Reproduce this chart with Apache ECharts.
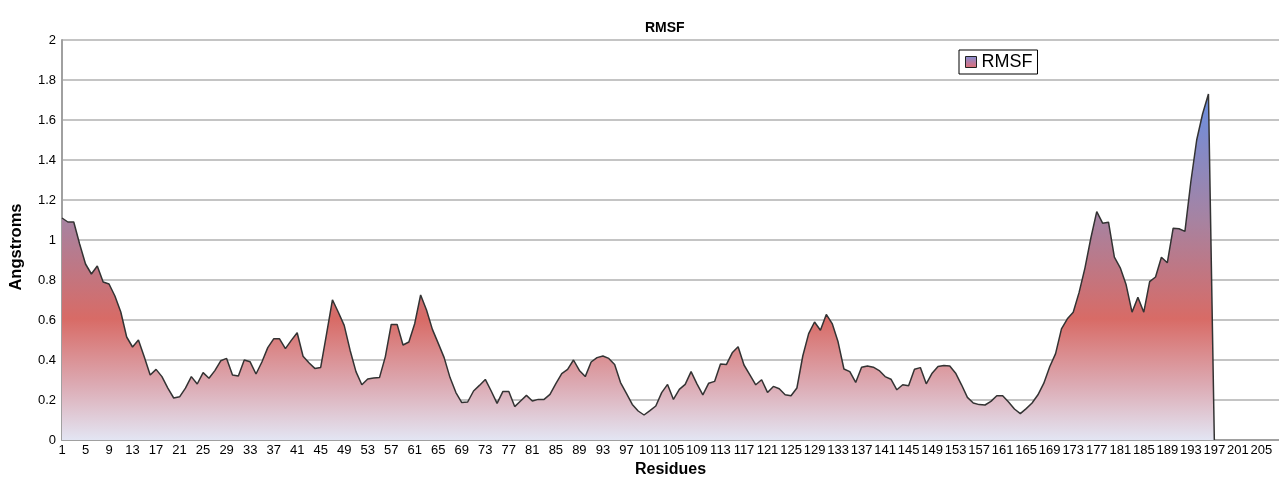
<!DOCTYPE html>
<html>
<head>
<meta charset="utf-8">
<title>RMSF</title>
<script src="https://cdn.jsdelivr.net/npm/echarts@6/dist/echarts.min.js"></script>
<style>
  html, body { margin: 0; padding: 0; background: #ffffff; }
  #chart { width: 1279px; height: 483px; }
</style>
</head>
<body>
<div id="chart"></div>
<script>
// Residue numbers along the x axis (1..208; the trajectory covers 1..197)
const residues = [];
for (let r = 1; r <= 208; r++) residues.push(String(r));

// Per-residue RMSF in Angstroms, residues 1..197
const rmsf = [
  1.11, 1.09, 1.09, 0.98, 0.88, 0.83, 0.87, 0.79, 0.78, 0.72,
  0.64, 0.515, 0.465, 0.50, 0.415, 0.325, 0.353, 0.317, 0.259, 0.21,
  0.216, 0.259, 0.317, 0.28, 0.337, 0.309, 0.347, 0.396, 0.408, 0.325,
  0.32, 0.40, 0.391, 0.33, 0.39, 0.462, 0.506, 0.506, 0.457, 0.498,
  0.536, 0.419, 0.386, 0.358, 0.363, 0.531, 0.701, 0.639, 0.573, 0.449,
  0.342, 0.276, 0.305, 0.31, 0.312, 0.417, 0.578, 0.578, 0.475, 0.49,
  0.583, 0.725, 0.65, 0.553, 0.483, 0.412, 0.312, 0.237, 0.187, 0.19,
  0.245, 0.273, 0.303, 0.245, 0.183, 0.243, 0.242, 0.167, 0.195, 0.223,
  0.195, 0.203, 0.203, 0.228, 0.282, 0.332, 0.353, 0.40, 0.348, 0.317,
  0.39, 0.412, 0.42, 0.408, 0.378, 0.287, 0.233, 0.178, 0.145, 0.125,
  0.147, 0.17, 0.237, 0.278, 0.203, 0.253, 0.278, 0.342, 0.281, 0.226,
  0.284, 0.293, 0.38, 0.377, 0.436, 0.466, 0.375, 0.326, 0.276, 0.301,
  0.238, 0.268, 0.256, 0.226, 0.221, 0.26, 0.42, 0.532, 0.59, 0.549,
  0.628, 0.582, 0.491, 0.355, 0.342, 0.288, 0.364, 0.37, 0.364, 0.347,
  0.317, 0.304, 0.251, 0.276, 0.271, 0.354, 0.362, 0.281, 0.334, 0.367,
  0.372, 0.37, 0.334, 0.276, 0.213, 0.185, 0.177, 0.175, 0.193, 0.221,
  0.221, 0.19, 0.155, 0.132, 0.157, 0.185, 0.226, 0.284, 0.366, 0.432,
  0.556, 0.606, 0.639, 0.738, 0.861, 1.01, 1.142, 1.084, 1.089, 0.914,
  0.861, 0.776, 0.639, 0.713, 0.639, 0.792, 0.815, 0.914, 0.886, 1.059,
  1.056, 1.043, 1.29, 1.50, 1.63, 1.73, 0
];

// Y axis ticks (Angstroms)
const yTicks = [0, 0.2, 0.4, 0.6, 0.8, 1, 1.2, 1.4, 1.6, 1.8, 2];

const seriesData = residues.map((_, i) => (i < rmsf.length ? rmsf[i] : null));

const fillGradient = new echarts.graphic.LinearGradient(0, 0, 0, 1, [
  { offset: 0.00, color: '#6a8fe2' },
  { offset: 0.36, color: '#a683a2' },
  { offset: 0.65, color: '#d86b66' },
  { offset: 0.84, color: '#dcaab3' },
  { offset: 1.00, color: '#e3e5f3' }
]);

const legendIcon = new echarts.graphic.LinearGradient(0, 0, 0, 1, [
  { offset: 0, color: '#7f8fd6' },
  { offset: 0.6, color: '#c0789a' },
  { offset: 1, color: '#e07070' }
]);

const chart = echarts.init(document.getElementById('chart'), null, { renderer: 'canvas' });

const font = 'Liberation Sans, Arial, sans-serif';

chart.setOption({
  animation: false,
  backgroundColor: '#ffffff',
  textStyle: { fontFamily: font },
  title: {
    text: 'RMSF',
    left: 640,
    top: 16,
    textStyle: { fontFamily: font, fontSize: 14, fontWeight: 'bold', color: '#000' }
  },
  legend: {
    left: 959,
    top: 50,
    orient: 'horizontal',
    borderColor: '#000',
    borderWidth: 1,
    padding: [3, 5, 3, 6],
    itemWidth: 11,
    itemHeight: 11,
    textStyle: { fontFamily: font, fontSize: 18, color: '#000' },
    data: [{
      name: 'RMSF',
      icon: 'rect',
      itemStyle: { color: legendIcon, borderColor: '#222', borderWidth: 1 }
    }]
  },
  grid: {
    left: 61,
    top: 40,
    width: 1221,
    bottom: 39,
    containLabel: false
  },
  xAxis: {
    type: 'category',
    data: residues,
    boundaryGap: false,
    name: 'Residues',
    nameLocation: 'middle',
    nameGap: 22,
    nameTextStyle: { fontFamily: font, fontSize: 16, fontWeight: 'bold', color: '#000' },
    axisLine: { lineStyle: { color: '#a0a0a0', width: 2 } },
    axisTick: { show: false },
    axisLabel: {
      interval: 3,
      margin: 4,
      fontFamily: font,
      fontSize: 13,
      color: '#000'
    },
    splitLine: { show: false }
  },
  yAxis: {
    type: 'value',
    min: yTicks[0],
    max: yTicks[yTicks.length - 1],
    interval: 0.2,
    name: 'Angstroms',
    nameLocation: 'middle',
    nameGap: 37,
    nameRotate: 90,
    nameTextStyle: {
      fontFamily: font, fontSize: 16.5, fontWeight: 'bold', color: '#000',
      padding: [0, 14, 0, 0]
    },
    axisLine: { show: true, lineStyle: { color: '#a0a0a0', width: 2 } },
    axisTick: { show: false },
    axisLabel: {
      margin: 6,
      fontFamily: font,
      fontSize: 13,
      color: '#000',
      formatter: v => String(Math.round(v * 10) / 10)
    },
    splitLine: { show: true, lineStyle: { color: '#b0b0b0', width: 1.5 } }
  },
  series: [{
    name: 'RMSF',
    type: 'line',
    data: seriesData,
    showSymbol: false,
    symbol: 'none',
    smooth: false,
    connectNulls: false,
    lineStyle: { color: '#333333', width: 1.5 },
    itemStyle: { color: legendIcon },
    areaStyle: { color: fillGradient, opacity: 1, origin: 'start' },
    z: 3
  }]
});
</script>
</body>
</html>
